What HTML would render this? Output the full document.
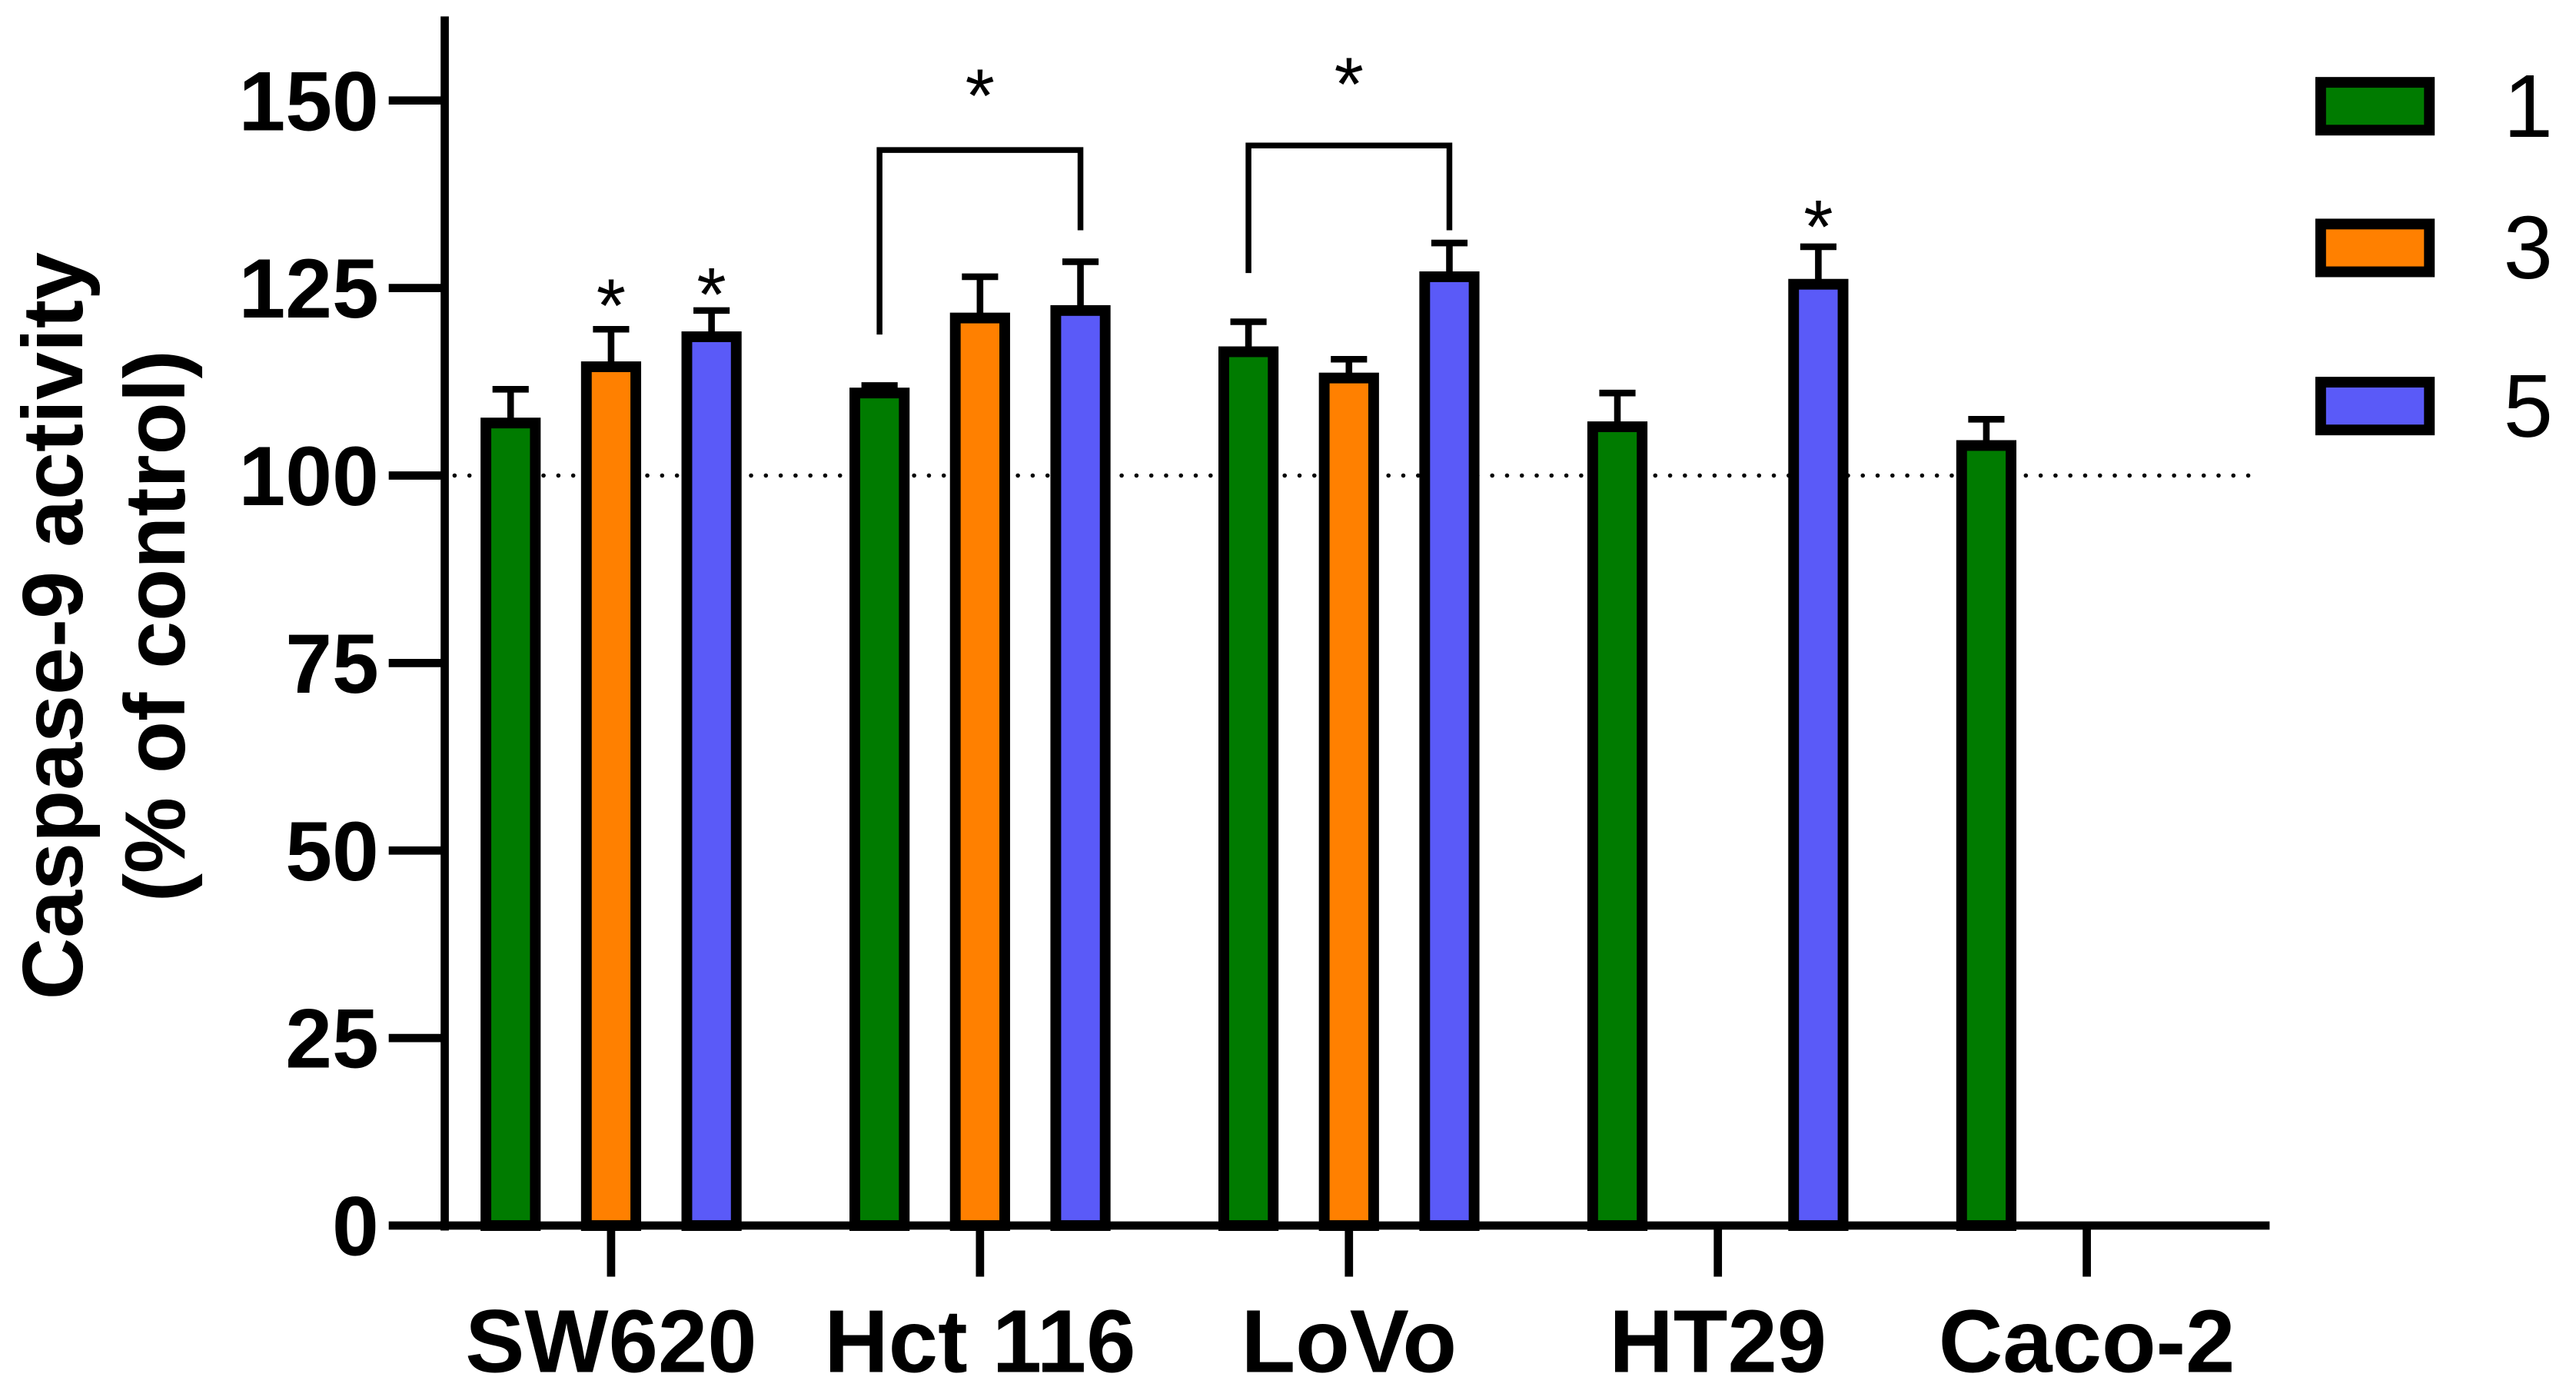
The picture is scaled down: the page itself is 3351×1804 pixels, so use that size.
<!DOCTYPE html>
<html><head><meta charset="utf-8"><style>html,body{margin:0;padding:0;background:#fff}svg{display:block}</style></head>
<body>
<svg id="chart" width="3351" height="1804" viewBox="0 0 1564 842" xmlns="http://www.w3.org/2000/svg" font-family="Liberation Sans, Arial, sans-serif">
<g id="plot"></g>
</svg>
<script>
const categories = ["SW620","Hct 116","LoVo","HT29","Caco-2"];
const seriesNames = ["1","3","5"];
const seriesColors = ["#007b00","#ff8000","#5a5af8"];
const values1 = [107, 111, 116.5, 106.5, 104];
const values3 = [114.5, 121, 113, null, null];
const values5 = [118.5, 122, 126.5, 125.5, null];
const err1 = [4.5, 1, 4, 4.5, 3.5];
const err3 = [5, 5.5, 2.5, null, null];
const err5 = [3.5, 6.5, 4.5, 5, null];
const yTicks = [0,25,50,75,100,125,150];
const stars = [[0,1,124],[0,2,125.5],[3,2,134.5]];
const brackets = [[1,0,2,118.8,143.4,132.7,152],[2,0,2,127,144,132.7,153.5]];

const NS="http://www.w3.org/2000/svg";
const g=document.getElementById('plot');
const X0=270, X1=1378, Y0=744, YTOP=10;
const y = v => Y0 - v*(744-61)/150;
const gx = i => 371 + i*224;
const bx = (i,s) => gx(i) + (s-1)*61;
function mk(tag,attrs,parent){const e=document.createElementNS(NS,tag);for(const k in attrs)e.setAttribute(k,attrs[k]);(parent||g).appendChild(e);return e;}
const vals=[values1,values3,values5], errs=[err1,err3,err5];

const dl=mk('line',{x1:X0+6,x2:1366,y1:y(100),y2:y(100),stroke:'#000','stroke-width':2.6,'stroke-dasharray':'0 9','stroke-linecap':'round'});



for(let s=0;s<3;s++){for(let i=0;i<categories.length;i++){
  const v=vals[s][i]; if(v==null) continue;
  const cx=bx(i,s), w=30;
  const e=errs[s][i];
  const el=mk('line',{x1:cx,x2:cx,y1:y(v),y2:y(v+e),stroke:'#000','stroke-width':4});
  
  
  const ec=mk('line',{x1:cx-11,x2:cx+11,y1:y(v+e),y2:y(v+e),stroke:'#000','stroke-width':4});
  
  
  const r=mk('rect',{x:cx-w/2,y:y(v),width:w,height:Y0-y(v),fill:seriesColors[s],stroke:'#000','stroke-width':6.5});
  
  
}}

const ya=mk('line',{x1:X0,x2:X0,y1:YTOP,y2:Y0+3,stroke:'#000','stroke-width':5});


const xa=mk('line',{x1:X0-3,x2:X1,y1:Y0,y2:Y0,stroke:'#000','stroke-width':5});


for(const t of yTicks){
  const tl=mk('line',{x1:236,x2:X0,y1:y(t),y2:y(t),stroke:'#000','stroke-width':5});
  
  
  const tx=mk('text',{x:230,y:y(t)+18,'text-anchor':'end','font-size':51,'font-weight':'bold'});
  tx.textContent=t;
  
  
}
categories.forEach((c,i)=>{
  const tl=mk('line',{x1:gx(i),x2:gx(i),y1:Y0,y2:775,stroke:'#000','stroke-width':5});
  
  
  const tx=mk('text',{x:gx(i),y:833,'text-anchor':'middle','font-size':54,'font-weight':'bold'});
  tx.textContent=c;
  
  
});

for(const [i,s,v] of stars){
  const t=mk('text',{x:bx(i,s),y:y(v)+22,'text-anchor':'middle','font-size':46});
  t.textContent='*';
  
  
}
for(const [i,s1,s2,l,top,r,st] of brackets){
  const p=mk('polyline',{points:`${bx(i,s1)},${y(l)} ${bx(i,s1)},${y(top)} ${bx(i,s2)},${y(top)} ${bx(i,s2)},${y(r)}`,fill:'none',stroke:'#000','stroke-width':3.5});
  
  
  const t=mk('text',{x:gx(i),y:y(st)+22,'text-anchor':'middle','font-size':46});
  t.textContent='*';
  
  
}

const ly=[64,150,246];
seriesNames.forEach((n,s)=>{
  const r=mk('rect',{x:1409,y:ly[s]-14,width:66,height:29,fill:seriesColors[s],stroke:'#000','stroke-width':6.5});
  
  
  const t=mk('text',{x:1535,y:ly[s]+19,'text-anchor':'middle','font-size':54});
  t.textContent=n;
  
  
});

const yt=mk('text',{transform:'translate(50,380) rotate(-90)','text-anchor':'middle','font-size':52,'font-weight':'bold'});
yt.textContent='Caspase-9 activity';


const yt2=mk('text',{transform:'translate(112,380) rotate(-90)','text-anchor':'middle','font-size':52,'font-weight':'bold'});
yt2.textContent='(% of control)';


</script>
</body></html>
